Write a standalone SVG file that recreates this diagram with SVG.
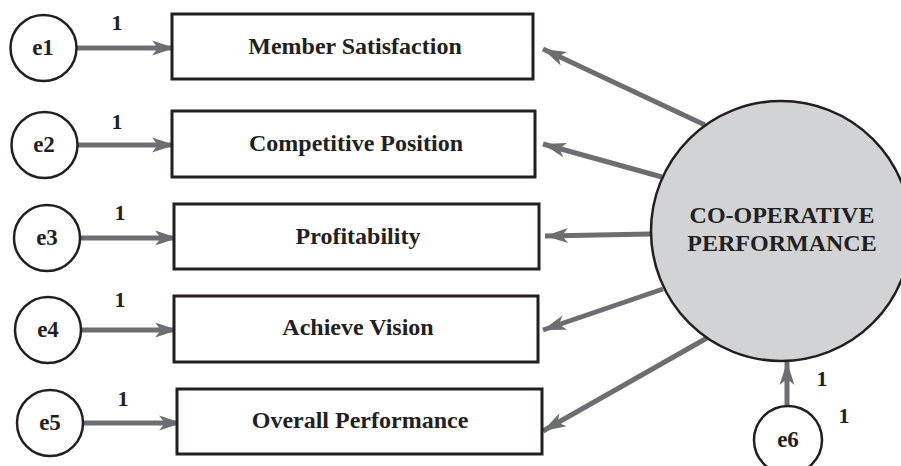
<svg xmlns="http://www.w3.org/2000/svg" width="901" height="466" viewBox="0 0 901 466">
<defs>
<style>
.t{font-family:"Liberation Serif","Times New Roman",serif;font-weight:bold;fill:#231f20;text-anchor:middle}
.box{fill:#fff;stroke:#231f20;stroke-width:3}
.err{fill:#fff;stroke:#231f20;stroke-width:2.5}
.c{stroke:#6d6e71;stroke-width:5;fill:none;marker-end:url(#ah)}
</style>
<marker id="ah" markerUnits="userSpaceOnUse" viewBox="-24 -8 25 16" refX="0" refY="0" markerWidth="25" markerHeight="16" orient="auto">
<path d="M0,0 L-23,-7.5 L-17,0 L-23,7.5 Z" fill="#6d6e71"/>
</marker>
</defs>
<rect width="901" height="466" fill="#fff"/>
<g id="connectors">
<line class="c" x1="76" y1="48" x2="175" y2="48"/>
<line class="c" x1="77" y1="145" x2="175" y2="145"/>
<line class="c" x1="80" y1="238" x2="178" y2="238"/>
<line class="c" x1="81" y1="330" x2="178" y2="330"/>
<line class="c" x1="83" y1="423" x2="182" y2="423"/>
<line class="c" x1="705" y1="125" x2="543" y2="49"/>
<line class="c" x1="662" y1="177" x2="543" y2="144"/>
<line class="c" x1="651" y1="234" x2="545" y2="236"/>
<line class="c" x1="663" y1="289" x2="543" y2="330"/>
<line class="c" x1="707" y1="338" x2="543" y2="431"/>
<line class="c" x1="787" y1="407" x2="787" y2="362"/>
</g>
<g id="labels">
<text class="t" x="117" y="30" font-size="22">1</text>
<text class="t" x="117" y="129" font-size="22">1</text>
<text class="t" x="120" y="220" font-size="22">1</text>
<text class="t" x="120" y="307" font-size="22">1</text>
<text class="t" x="123" y="406" font-size="22">1</text>
<text class="t" x="822" y="386" font-size="22">1</text>
<text class="t" x="844" y="423" font-size="22">1</text>
</g>
<g id="e1"><circle class="err" cx="43.5" cy="48" r="33"/><text class="t" x="43" y="55" font-size="23">e1</text></g>
<g id="e2"><circle class="err" cx="44.5" cy="145" r="33"/><text class="t" x="44" y="152" font-size="23">e2</text></g>
<g id="e3"><circle class="err" cx="47" cy="238" r="33"/><text class="t" x="47" y="245" font-size="23">e3</text></g>
<g id="e4"><circle class="err" cx="48" cy="330" r="33"/><text class="t" x="48" y="337" font-size="23">e4</text></g>
<g id="e5"><circle class="err" cx="50" cy="423" r="33"/><text class="t" x="50" y="430" font-size="23">e5</text></g>
<g id="e6"><circle class="err" cx="788" cy="440" r="34"/><text class="t" x="788" y="447" font-size="23">e6</text></g>
<g id="member"><rect class="box" x="172" y="14" width="361" height="65"/><text class="t" x="355" y="54" font-size="24">Member Satisfaction</text></g>
<g id="competitive"><rect class="box" x="172" y="111" width="363" height="66"/><text class="t" x="356" y="151" font-size="24">Competitive Position</text></g>
<g id="profitability"><rect class="box" x="174" y="204" width="365" height="65"/><text class="t" x="358" y="244" font-size="24">Profitability</text></g>
<g id="vision"><rect class="box" x="174" y="296" width="364" height="66"/><text class="t" x="358" y="335" font-size="24">Achieve Vision</text></g>
<g id="overall"><rect class="box" x="177" y="389" width="365" height="65"/><text class="t" x="360" y="428" font-size="24">Overall Performance</text></g>
<g id="performance"><circle cx="781" cy="231" r="130" fill="#d1d3d4" stroke="#231f20" stroke-width="2.5"/><text class="t" x="782" y="223" font-size="24">CO-OPERATIVE</text><text class="t" x="782" y="251" font-size="24">PERFORMANCE</text></g>
</svg>
